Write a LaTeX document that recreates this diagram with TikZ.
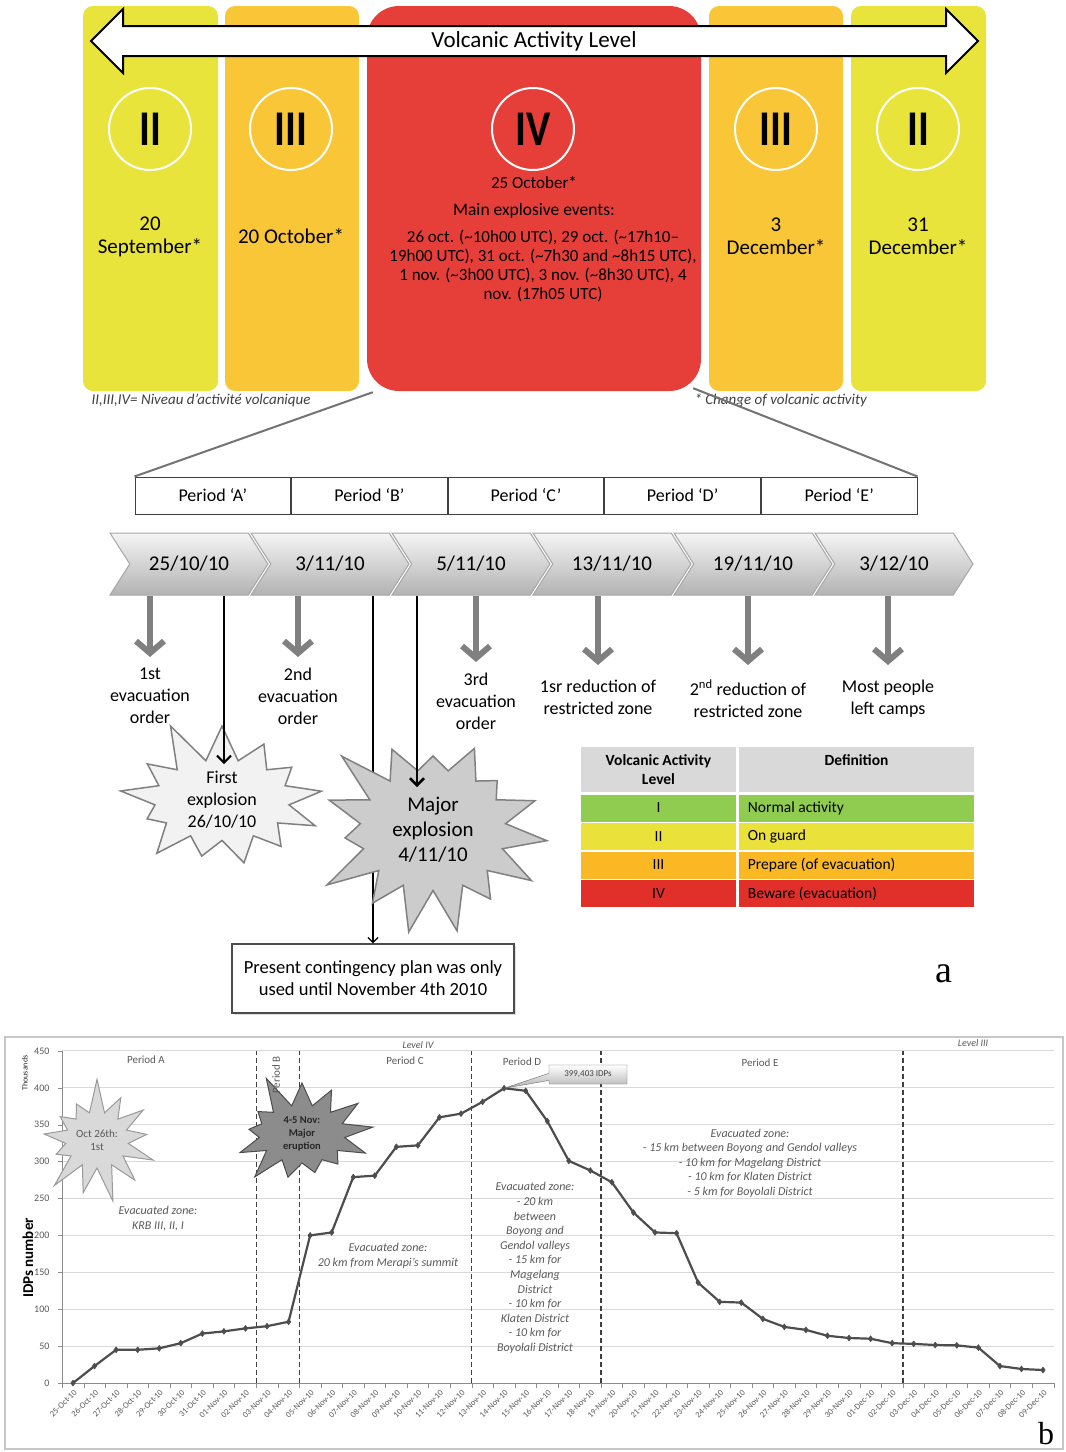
\documentclass[tikz,border=0pt]{standalone}
\usepackage{fontspec}
\setmainfont{Carlito}
\newfontfamily\serifpanel{Liberation Serif}
\usetikzlibrary{positioning,shapes.symbols,shapes.arrows,shapes.callouts,arrows.meta,shadows,plotmarks}

\definecolor{lvlyellow}{HTML}{E9E43C}
\definecolor{lvlamber}{HTML}{F8C637}
\definecolor{lvlred}{HTML}{E63F3A}
\definecolor{tabgreen}{HTML}{8FCC50}
\definecolor{tabyellow}{HTML}{EAE23A}
\definecolor{taborange}{HTML}{F9B824}
\definecolor{tabred}{HTML}{E1302A}
\definecolor{tabhead}{HTML}{D9D9D9}
\definecolor{chartink}{HTML}{595959}
\definecolor{gridgray}{HTML}{D9D9D9}
\definecolor{axisgray}{HTML}{8C8C8C}
\definecolor{linkgray}{HTML}{737373}
\definecolor{idpgray}{HTML}{4D4D4D}

\newcommand\fsz[2]{\fontsize{#1}{#2}\selectfont}

\begin{document}
\begin{tikzpicture}[x=1pt, y={(0pt,-1pt)},
    lvlcol/.style={rounded corners=10pt, minimum height=385pt, inner sep=0pt},
    lvlcircle/.style={circle, draw=white, line width=2pt, minimum size=82pt,
      inner sep=0pt, font=\fsz{50}{50}\bfseries},
    datetext/.style={font=\fsz{21}{23}, align=center},
    caption/.style={font=\fsz{15}{17}\itshape, text=black!75, anchor=west},
    periodcell/.style={draw=black!75, line width=1pt, minimum width=155.6pt,
      minimum height=37pt, font=\fsz{18}{20}},
    chevron/.style={signal, signal from=west, signal to=east,
      signal pointer angle=115, minimum width=158pt, minimum height=62pt,
      top color=black!4, bottom color=black!30, draw=black!35, line width=1pt,
      font=\fsz{21}{24}, inner sep=0pt},
    evaclabel/.style={font=\fsz{18}{22}, align=center, anchor=north, inner sep=0pt},
    evacarrow/.style={draw=black!50, line width=6pt,
      -{Straight Barb[length=12pt,width=28pt]}},
    blackarrow/.style={draw=black, line width=2pt,
      -{Straight Barb[length=7pt,width=14pt]}},
    burst/.style={starburst, draw=black!50, line width=1.5pt, align=center,
      inner sep=0pt},
    tabcell/.style={draw=white, line width=1.5pt, minimum height=28.5pt,
      font=\fsz{15.5}{17}, inner sep=0pt},
    charttext/.style={font=\fsz{11}{13}, text=chartink},
    zonetext/.style={font=\fsz{12}{14.6}\itshape, text=chartink, align=center},
  ]
  \useasboundingbox (0,0) rectangle (1066,1452);

  % level columns
  \node[lvlcol, fill=lvlyellow, minimum width=135pt] (colA) at (150.5,198.5) {};
  \node[lvlcol, fill=lvlamber, minimum width=134pt] (colB) at (292,198.5) {};
  \node[lvlcol, fill=lvlred, rounded corners=32pt, minimum width=334pt] (colIV) at (534,198.5) {};
  \node[lvlcol, fill=lvlamber, minimum width=134pt] (colD) at (776,198.5) {};
  \node[lvlcol, fill=lvlyellow, minimum width=135pt] (colE) at (918.5,198.5) {};

  % double arrow
  \draw[line width=2pt, fill=white, line join=miter]
    (91,41) -- (123,9) -- (123,26) -- (946,26) -- (946,9) -- (978,41)
    -- (946,73) -- (946,56) -- (123,56) -- (123,73) -- cycle;
  \node[font=\fsz{23}{26}] (valtitle) at (534,41) {Volcanic Activity Level};

  % circles
  \node[lvlcircle] (cirA) at (150,129) {\scalebox{0.82}[1]{II}};
  \node[lvlcircle] (cirB) at (291,129) {\scalebox{0.82}[1]{III}};
  \node[lvlcircle] (cirIV) at (533,129) {\scalebox{0.82}[1]{IV}};
  \node[lvlcircle] (cirD) at (776,129) {\scalebox{0.82}[1]{III}};
  \node[lvlcircle] (cirE) at (918,129) {\scalebox{0.82}[1]{II}};

  \node[datetext] (dateA) at (150,236.5) {20\\September*};
  \node[datetext] (dateB) at (291,236) {20 October*};
  \node[datetext] (dateD) at (776,236.5) {3\\December*};
  \node[datetext] (dateE) at (918,236.5) {31\\December*};
  \node[font=\fsz{17}{19}] (dateIV) at (534,183) {25 October*};
  \node[font=\fsz{17.5}{19}] (mainev) at (534,211) {Main explosive events:};
  \node[font=\fsz{17}{19.3}, align=center] (events) at (543,266) {26 oct. (\textasciitilde10h00 UTC), 29 oct. (\textasciitilde17h10--\\19h00 UTC), 31 oct. (\textasciitilde7h30 and \textasciitilde8h15 UTC),\\1 nov. (\textasciitilde3h00 UTC), 3 nov. (\textasciitilde8h30 UTC), 4\\nov. (17h05 UTC)};

  \node[caption] (capL) at (88,400) {II,III,IV= Niveau d’activité volcanique};
  \node[caption] (capR) at (691,400) {* Change of volcanic activity};

  % periods
  \node[periodcell] (pA) at (212.8,495.5) {Period ‘A’};
  \node[periodcell, right=0pt of pA] (pB) {Period ‘B’};
  \node[periodcell, right=0pt of pB] (pC) {Period ‘C’};
  \node[periodcell, right=0pt of pC] (pD) {Period ‘D’};
  \node[periodcell, right=0pt of pD] (pE) {Period ‘E’};
  \draw[linkgray, line width=2pt] ([xshift=6pt,yshift=-1pt]colIV.south west) -- (pA.north west);
  \draw[linkgray, line width=2pt] ([xshift=-8pt,yshift=3pt]colIV.south east) -- (pE.north east);

  % timeline
  \node[chevron] (ch1) at (189,564) {25/10/10};
  \node[chevron] (ch2) at (330,564) {3/11/10};
  \node[chevron] (ch3) at (471,564) {5/11/10};
  \node[chevron] (ch4) at (612,564) {13/11/10};
  \node[chevron] (ch5) at (753,564) {19/11/10};
  \node[chevron] (ch6) at (894,564) {3/12/10};

  \node[evaclabel] (lab1) at (150,668) {1st\\evacuation\\order};
  \node[evaclabel] (lab2) at (298,668) {2nd\\evacuation\\order};
  \node[evaclabel] (lab3) at (476,673) {3rd\\evacuation\\order};
  \node[evaclabel] (lab4) at (598,680) {1sr reduction of\\restricted zone};
  \node[evaclabel] (lab5) at (748,680) {2\textsuperscript{nd} reduction of\\restricted zone};
  \node[evaclabel] (lab6) at (888,680) {Most people\\left camps};
  \foreach \n/\s in {1/11,2/11,3/11,4/15,5/15,6/15}
    \draw[evacarrow, shorten >=\s pt] (ch\n.south -| lab\n.north) -- (lab\n.north);

  % contingency plan
  \node[draw=black!70, line width=1.5pt, fill=white, minimum width=282pt,
    minimum height=69pt, align=center, font=\fsz{18.5}{22},
    drop shadow={opacity=0.25, shadow xshift=2pt, shadow yshift=-2pt}]
    (plan) at (373,978.5) {Present contingency plan was only\\used until November 4th 2010};
  \draw[draw=black, line width=1.2pt, -{Straight Barb[length=5pt,width=10pt]}]
    (ch2.south -| plan.north) -- (plan.north);

  % explosions
  \node[burst, fill=black!5, starburst points=13, starburst point height=45pt,
    random starburst=11, minimum width=225pt, minimum height=155pt,
    font=\fsz{18}{22}] (firstex) at (222,800) {First\\explosion\\26/10/10};
  \node[burst, fill=black!20, starburst points=15, starburst point height=52pt,
    random starburst=23, minimum width=250pt, minimum height=225pt,
    font=\fsz{21}{25}] (majorex) at (433,830) {Major\\explosion\\4/11/10};
  \coordinate (hitA) at (224,764);
  \coordinate (hitB) at (417,787);
  \draw[blackarrow] (ch1.south -| hitA) -- (hitA);
  \draw[blackarrow, line width=2.5pt] (ch3.south -| hitB) -- (hitB);

  % level table
  \node[tabcell, fill=tabhead, minimum width=157pt, minimum height=47pt,
    align=center, font=\fsz{15.5}{19}\bfseries] (hlvl) at (658.5,769.5) {Volcanic Activity\\Level};
  \node[tabcell, fill=tabhead, minimum width=236pt, minimum height=47pt,
    right=0pt of hlvl] (hdef) {};
  \node[font=\fsz{15.5}{17}\bfseries] (hdeftxt) at ([yshift=9.5pt]hdef.center) {Definition};
  \foreach \lvl/\defn/\col [count=\k] in {I/Normal activity/tabgreen,
      II/On guard/tabyellow, III/Prepare (of evacuation)/taborange,
      IV/Beware (evacuation)/tabred} {
    \node[tabcell, fill=\col, minimum width=157pt] (lv\k) at (658.5,779.5+\k*28.5) {\lvl};
    \node[tabcell, fill=\col, minimum width=236pt, right=0pt of lv\k] (df\k) {};
    \node[font=\fsz{15.5}{17}, anchor=west, inner sep=0pt] (dft\k) at ([xshift=10pt]df\k.west) {\defn};
  }

  \node[font=\serifpanel\fsz{38}{38}] (panela) at (944,974) {a};

  % chart b
  \draw[black!22, line width=1.5pt] (5,1037) rectangle (1063,1449);
  \begin{scope}[shift={(73,1383)}, x=21.556pt, y=0.738pt]
    \foreach \v in {50,100,...,450}
      \draw[gridgray, line width=1pt] (-0.5,\v) -- (45.5,\v);
    \foreach \v in {0,50,...,450} {
      \draw[axisgray] (-0.5,\v) -- ++(-4pt,0);
      \node[font=\fsz{10}{12}, text=chartink, anchor=east] at (-0.93,\v) {\v};
    }
    \draw[axisgray, line width=1pt] (-0.5,0) -- (-0.5,450);
    \draw[axisgray, line width=1pt] (-0.5,0) -- (45.5,0);
    \foreach \t in {-0.5,0.5,...,45.5}
      \draw[axisgray] (\t,0) -- ++(0,-5pt);
    \foreach \i in {0,...,45} {
      \ifnum\i<7 \pgfmathtruncatemacro\dd{25+\i}\def\mm{Oct}%
      \else\ifnum\i<37 \pgfmathtruncatemacro\dd{\i-6}\def\mm{Nov}%
      \else \pgfmathtruncatemacro\dd{\i-36}\def\mm{Dec}\fi\fi
      \node[font=\fsz{8.5}{10}, text=chartink, rotate=45, anchor=east, inner sep=1pt]
        at (\i+0.15,-10) {\ifnum\dd<10 0\fi\dd-\mm-10};
    }
    \foreach \b in {8.5,10.5,18.5,24.5,38.5}
      \draw[black!75, line width=1.3pt, dash pattern=on 5pt off 3pt] (\b,0) -- (\b,450);
    \draw[idpgray, line width=2.2pt, line join=round, mark=diamond*, mark size=3pt,
        mark options={fill=idpgray, draw=idpgray, line width=0.5pt}]
      plot coordinates {(0,0) (1,23) (2,45) (3,45) (4,47) (5,54) (6,67) (7,70) (8,74)
        (9,77) (10,83) (11,200) (12,204) (13,279) (14,281) (15,320) (16,322)
        (17,360) (18,365) (19,381) (20,399.4) (21,396) (22,355) (23,301) (24,288)
        (25,272) (26,231) (27,204) (28,203) (29,136) (30,110) (31,109) (32,87)
        (33,76) (34,72) (35,64) (36,61) (37,60) (38,54) (39,53) (40,51.5) (41,51)
        (42,48) (43,23) (44,19) (45,17.6)};
    \coordinate (peak) at (20,399.4);
  \end{scope}

  \node[rotate=90, font=\fsz{15}{18}\bfseries] (ytitle) at (28,1258) {IDPs number};
  \node[rotate=90, font=\fsz{8}{10}, text=black!85] (ythous) at (25,1073) {Thousands};

  \node[burst, fill=black!15, draw=black!40, line width=1pt, starburst points=13,
    starburst point height=36pt, random starburst=7, minimum width=135pt,
    minimum height=128pt, font=\fsz{11}{13}, text=chartink] (burstA) at (97,1140) {Oct 26th:\\1st};
  \node[burst, fill=black!45, draw=black!70, line width=1pt, starburst points=13,
    starburst point height=36pt, random starburst=5, minimum width=158pt,
    minimum height=130pt, font=\fsz{10.5}{13}\bfseries, text=black!85] (burstB) at (302,1134) {4-5 Nov:\\Major\\eruption};

  \node[charttext] (perA) at (146,1060) {Period A};
  \node[charttext, rotate=90] (perB) at (276,1075) {Period B};
  \node[charttext] (perC) at (405,1061) {Period C};
  \node[charttext] (perD) at (522,1062) {Period D};
  \node[charttext] (perE) at (760,1063) {Period E};
  \node[charttext, font=\fsz{10}{11}\itshape] (tagIV) at (418,1045) {Level IV};
  \node[charttext, font=\fsz{10}{11}\itshape] (tagIII) at (973,1043) {Level III};

  \node[rectangle callout, callout absolute pointer={(peak)}, draw=black!60,
    top color=white, bottom color=black!30, minimum width=78pt, minimum height=19pt,
    inner sep=1pt, font=\fsz{9}{10}, text=black!75] (peaktag) at (588,1074.5) {399,403 IDPs};

  \node[zonetext] (zoneA) at (158,1218.5) {Evacuated zone:\\KRB III, II, I};
  \node[zonetext] (zoneC) at (388,1256) {Evacuated zone:\\20 km from Merapi’s summit};
  \node[zonetext] (zoneD) at (535,1268) {Evacuated zone:\\- 20 km\\between\\Boyong and\\Gendol valleys\\- 15 km for\\Magelang\\District\\- 10 km for\\Klaten District\\- 10 km for\\Boyolali District};
  \node[zonetext] (zoneE) at (750,1163) {Evacuated zone:\\- 15 km between Boyong and Gendol valleys\\- 10 km for Magelang District\\- 10 km for Klaten District\\- 5 km for Boyolali District};

  \node[font=\serifpanel\fsz{32}{32}] (panelb) at (1046,1434) {b};
\end{tikzpicture}
\end{document}
